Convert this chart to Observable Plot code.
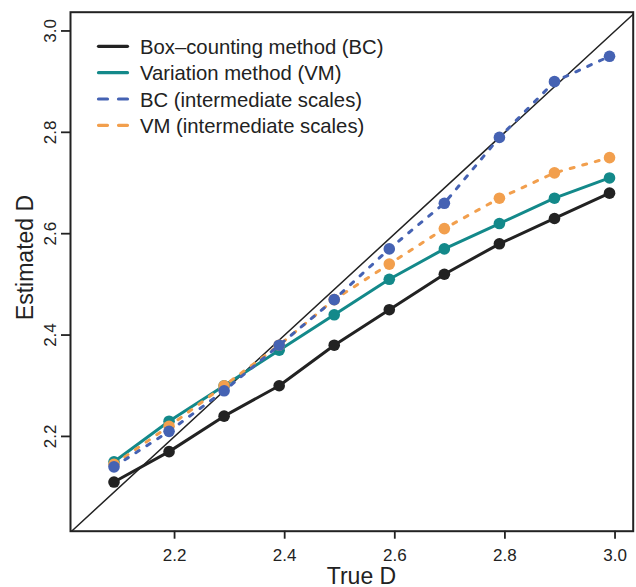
<!DOCTYPE html>
<html>
<head>
<meta charset="utf-8">
<script src="https://cdn.jsdelivr.net/npm/d3@7"></script>
<script src="https://cdn.jsdelivr.net/npm/@observablehq/plot@0.6"></script>
<style>
  html, body { margin: 0; padding: 0; background: #fff; }
  #chart { width: 636px; height: 587px; }
</style>
</head>
<body>
<div id="chart"></div>
<script>
const trueD = [2.09, 2.19, 2.29, 2.39, 2.49, 2.59, 2.69, 2.79, 2.89, 2.99];
const bc    = [2.11, 2.17, 2.24, 2.30, 2.38, 2.45, 2.52, 2.58, 2.63, 2.68];
const vm    = [2.15, 2.23, 2.30, 2.37, 2.44, 2.51, 2.57, 2.62, 2.67, 2.71];
const bcInt = [2.14, 2.21, 2.29, 2.38, 2.47, 2.57, 2.66, 2.79, 2.90, 2.95];
const vmInt = [2.145, 2.22, 2.30, 2.38, 2.47, 2.54, 2.61, 2.67, 2.72, 2.75];
const xTicks = [2.2, 2.4, 2.6, 2.8, 3.0];
const yTicks = [2.2, 2.4, 2.6, 2.8, 3.0];
const xDomain = [2.011, 3.033];
const yDomain = [2.013, 3.037];
const xTitle = "True D";
const yTitle = "Estimated D";
const seriesNames = ["Box\u2013counting method (BC)", "Variation method (VM)", "BC (intermediate scales)", "VM (intermediate scales)"];
const seriesColors = ["#222222", "#13898a", "#4562b3", "#f29f4d"];
const seriesDashed = [false, false, true, true];

const toRows = (vals) => trueD.map((x, i) => ({x, y: vals[i]}));
const diagonal = [
  {x: Math.max(xDomain[0], yDomain[0]), y: Math.max(xDomain[0], yDomain[0])},
  {x: Math.min(xDomain[1], yDomain[1]), y: Math.min(xDomain[1], yDomain[1])}
];
const font = "Liberation Sans, Arial, Helvetica, sans-serif";

function seriesMarks(vals, k) {
  const rows = toRows(vals);
  return [
    Plot.line(rows, {x: "x", y: "y", stroke: seriesColors[k], strokeWidth: 3,
      strokeLinecap: "round", strokeLinejoin: "round",
      strokeDasharray: seriesDashed[k] ? "4,9" : null}),
    Plot.dot(rows, {x: "x", y: "y", r: 5.8, fill: seriesColors[k], stroke: "none"})
  ];
}

const chart = Plot.plot({
  width: 636,
  height: 587,
  marginLeft: 70,
  marginRight: 3.3,
  marginTop: 11.7,
  marginBottom: 56.3,
  style: {fontFamily: font, fontSize: "17px", color: "#222", background: "#fff"},
  x: {domain: xDomain},
  y: {domain: yDomain},
  marks: [
    Plot.line(diagonal, {x: "x", y: "y", stroke: "#222", strokeWidth: 1.5}),
    ...seriesMarks(bc, 0),
    ...seriesMarks(vm, 1),
    ...seriesMarks(vmInt, 3),
    ...seriesMarks(bcInt, 2),
    Plot.axisX({ticks: xTicks, tickSize: 8, tickPadding: 9.5, fontSize: 17, label: null,
      tickFormat: d3.format(".1f"), stroke: "#222", strokeWidth: 1.8, fill: "#222"}),
    Plot.axisY({ticks: yTicks, tickSize: 9, tickPadding: 6, tickRotate: -90, fontSize: 17, label: null,
      tickFormat: d3.format(".1f"), stroke: "#222", strokeWidth: 1.8, fill: "#222"}),
    Plot.frame({stroke: "#222", strokeWidth: 2})
  ]
});

const svg = d3.select(chart);

// Axis titles
const titles = svg.append("g").attr("font-family", font).attr("fill", "#222")
  .attr("font-size", 23).attr("text-anchor", "middle");
titles.append("text").attr("x", 361.5).attr("y", 583.5).text(xTitle);
titles.append("text").attr("transform", "translate(33,257.5) rotate(-90)").text(yTitle);

// Legend (inside plot, top-left)
const leg = svg.append("g").attr("font-family", font).attr("text-anchor", "start");
seriesNames.forEach((name, i) => {
  const cy = 46.3 + i * 26.35;
  leg.append("line")
    .attr("x1", 98.5).attr("x2", 127.5).attr("y1", cy).attr("y2", cy)
    .attr("stroke", seriesColors[i]).attr("stroke-width", 3.2)
    .attr("stroke-linecap", "round")
    .attr("stroke-dasharray", seriesDashed[i] ? "9,11" : null);
  leg.append("text")
    .attr("x", 140).attr("y", cy + 7.5)
    .attr("text-anchor", "start")
    .attr("font-size", 20.3).attr("fill", "#222")
    .text(name);
});

document.getElementById("chart").appendChild(chart);
</script>
</body>
</html>
